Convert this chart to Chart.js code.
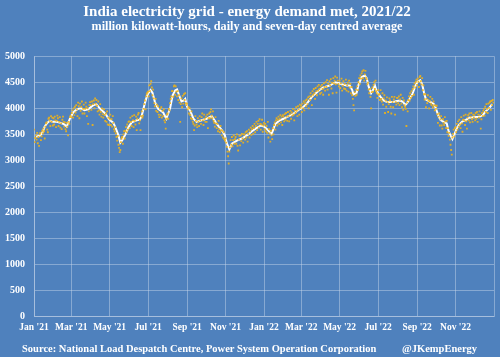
<!DOCTYPE html>
<html>
<head>
<meta charset="utf-8">
<script src="https://cdn.jsdelivr.net/npm/chart.js@4/dist/chart.umd.min.js"></script>
<style>
  html, body { margin: 0; padding: 0; background: #4f81bd; }
  #wrap { position: relative; width: 500px; height: 357px; background: #4f81bd; overflow: hidden; }
  canvas { position: absolute; left: 0; top: 0; }
  .foot { position: absolute; top: 342px; font-family: "Liberation Serif", "DejaVu Serif", serif; font-weight: bold; font-size: 10.5px; color: #ffffff; white-space: nowrap; line-height: 14px; }
</style>
</head>
<body>
<div id="wrap">
  <canvas id="c" width="500" height="357"></canvas>
  <div class="foot" id="src" style="left:22px;">Source: National Load Despatch Centre, Power System Operation Corporation</div>
  <div class="foot" id="handle" style="left:402px;">@JKempEnergy</div>
</div>
<script>
// ---------- DATA ----------
const titleText = 'India electricity grid - energy demand met, 2021/22';
const subtitleText = 'million kilowatt-hours, daily and seven-day centred average';

const tickDates = ['2021-01-01','2021-03-01','2021-05-01','2021-07-01','2021-09-01','2021-11-01',
                   '2022-01-01','2022-03-01','2022-05-01','2022-07-01','2022-09-01','2022-11-01','2023-01-01'];
const tickLabels = ["Jan '21","Mar '21","May '21","Jul '21","Sep '21","Nov '21",
                    "Jan '22","Mar '22","May '22","Jul '22","Sep '22","Nov '22"];
const startDate = '2021-01-01';

// daily energy demand met (million kWh), one array per month
const daily2021_01 = [3590,3350,3430,3480,3400,3530,3330,3450,3280,3500,3530,3390,3460,3570,3520,3610,3560,3420,3650,3710,3730,3590,3540,3800,3820,3760,3660,3850,3740,3820,3670];
const daily2021_02 = [3810,3690,3840,3770,3640,3760,3860,3810,3660,3740,3830,3630,3710,3600,3780,3840,3740,3650,3730,3600,3560,3720,3650,3480,3740,3700,3830,3860];
const daily2021_03 = [3830,3910,3960,3820,4000,3870,4030,3920,4060,3980,3850,4110,4040,3810,4090,3950,4030,4130,3900,3990,4070,3900,3990,4110,4030,3850,4000,3700,3940,4060,4120];
const daily2021_04 = [4060,3970,4130,3680,4080,4150,4000,4190,4090,4160,4050,3940,4130,3960,3880,4080,3930,3840,4000,3890,3820,3980,3870,3760,3900,3740,3940,3690,3820,3680];
const daily2021_05 = [3800,3880,3680,3790,3650,3850,3720,3600,3560,3640,3520,3450,3380,3470,3300,3240,3160,3200,3350,3420,3450,3320,3500,3560,3420,3570,3640,3540,3690,3590,3740];
const daily2021_06 = [3750,3620,3820,3740,3660,3850,3770,3640,3870,3760,3690,3840,3580,3800,3880,3910,3710,3770,3580,3850,3940,3820,3860,3990,4080,4150,3980,4230,4280,4300];
const daily2021_07 = [4320,4230,4440,4330,4470,4520,4400,4250,4360,4190,4100,4040,4180,3950,4070,3930,4040,3880,3830,3990,3870,4020,3820,3950,3850,3980,3770,3730,3610,3800,3880];
const daily2021_08 = [3900,3800,3990,3960,4100,4180,4230,4330,4330,4220,4420,4440,4260,4420,4320,4230,4330,4160,4250,4110,3740,4080,4190,4020,4240,4090,4270,4160,4290,4100,4060];
const daily2021_09 = [4090,3980,4020,3900,4000,3870,3810,3940,3790,3740,3700,3580,3670,3850,3760,3690,3640,3810,3740,3660,3850,3770,3700,3830,3900,3770,3680,3880,3800,3740];
const daily2021_10 = [3840,3740,3880,3620,3810,3900,3810,3930,3980,3860,3810,3940,3760,3720,3650,3830,3710,3620,3700,3560,3760,3600,3540,3660,3580,3480,3570,3440,3540,3410,3380];
const daily2021_11 = [3420,3340,3260,3170,3080,2940,3170,3250,3390,3300,3450,3270,3390,3480,3320,3410,3450,3320,3500,3280,3190,3400,3470,3290,3480,3370,3510,3420,3340,3500];
const daily2021_12 = [3500,3400,3540,3440,3560,3360,3510,3590,3440,3560,3630,3490,3600,3660,3510,3620,3700,3540,3660,3740,3580,3700,3760,3630,3790,3700,3590,3690,3780,3550,3670];
const daily2022_01 = [3720,3600,3700,3560,3660,3530,3740,3440,3600,3520,3360,3570,3480,3410,3620,3500,3680,3730,3590,3770,3810,3670,3780,3840,3700,3800,3870,3730,3840,3680,3870];
const daily2022_02 = [3840,3750,3890,3780,3910,3840,3760,3930,3850,3750,3890,3950,3800,3920,3860,3990,3880,3770,3960,3910,4020,3950,3850,4040,3980,3880,4070,4010];
const daily2022_03 = [4050,3930,4090,4000,4130,3960,4100,4150,4040,4170,4080,4210,4000,4230,4160,4290,4230,4060,4330,4260,4370,4290,4180,4390,4330,4250,4420,4340,4450,4370,4280];
const daily2022_04 = [4420,4300,4450,4370,4260,4480,4410,4340,4500,4410,4540,4360,4470,4260,4520,4440,4560,4380,4490,4290,4580,4480,4530,4610,4460,4300,4590,4530,4470,4420];
const daily2022_05 = [4530,4390,4480,4570,4340,4430,4520,4380,4470,4370,4550,4340,4440,4490,4320,4530,4400,4470,4290,4410,4250,4180,4060,3960,4310,4240,4360,4260,4420,4350,4500];
const daily2022_06 = [4580,4470,4630,4570,4670,4710,4580,4730,4530,4650,4720,4590,4560,4460,4490,4360,4290,4370,4220,4000,4310,4400,4320,4450,4500,4370,4530,4330,4290,4200];
const daily2022_07 = [4350,4260,4270,4160,4350,4180,4130,4290,4070,4190,4250,3910,4150,4030,4210,4120,3930,4080,4190,4150,4030,3900,4220,4120,4020,4170,4220,3880,4120,4070,4200];
const daily2022_08 = [4200,4100,4230,4060,4170,4260,4090,4020,4200,3970,4150,4060,4030,3990,3660,4110,3940,4160,4230,4150,4290,4200,4330,4240,4370,4420,4260,4480,4400,4510,4550];
const daily2022_09 = [4450,4570,4510,4410,4600,4620,4520,4460,4580,4350,4440,4270,4170,4270,4020,4180,4100,4250,4150,4000,4140,4220,4090,4060,4180,4020,4130,4060,3960,4050];
const daily2022_10 = [3990,4050,3890,3720,3840,3900,3670,3790,3850,3670,3610,3790,3720,3680,3830,3750,3620,3760,3540,3620,3470,3530,3400,3300,3200,3110,3440,3510,3590,3460,3620];
const daily2022_11 = [3640,3540,3700,3590,3750,3650,3780,3690,3620,3830,3710,3550,3780,3860,3770,3680,3880,3750,3610,3820,3870,3770,3900,3730,3840,3910,3790,3740,3880,3820];
const daily2022_12 = [3870,3770,3910,3800,3930,3740,3880,3820,3940,3870,3610,3790,3910,3850,3950,3990,3860,4030,3930,4080,3990,3910,4090,4010,4110,4130,3970,4140,4060,4160,4110];

// seven-day centred average, read at its turning points (days since 1 Jan 2021)
const avgDayIndex = [3,7,10,14,17,21,25,30,36,42,47,52,57,62,66,70,75,80,86,94,99,105,113,119,126,130,134,137,140,145,150,155,163,168,171,176,180,185,188,192,197,205,210,216,220,224,227,230,234,238,240,243,248,253,258,266,274,282,287,290,298,303,306,310,314,322,330,340,346,353,360,365,369,375,377,380,383,390,396,401,411,420,426,433,441,449,454,459,470,478,484,488,496,501,505,507,512,515,520,525,528,531,535,538,541,544,550,555,560,565,570,576,581,586,589,592,596,600,605,608,613,616,619,622,628,634,637,642,645,650,655,658,661,664,668,672,675,680,686,690,698,706,712,716,720,724,727];
const avgValues   = [3460,3470,3480,3550,3650,3720,3760,3740,3740,3720,3700,3650,3800,3920,3960,3990,4000,3965,3980,4060,4080,3990,3900,3790,3720,3610,3480,3340,3390,3500,3640,3730,3770,3780,3860,4100,4260,4350,4300,4120,3990,3920,3800,4000,4250,4340,4360,4260,4130,4150,4180,4030,3950,3800,3740,3770,3800,3850,3760,3700,3580,3480,3330,3210,3320,3380,3420,3500,3560,3620,3670,3650,3610,3530,3510,3600,3700,3770,3800,3830,3890,3970,4010,4090,4220,4310,4360,4400,4440,4500,4480,4460,4440,4440,4350,4270,4300,4450,4600,4630,4580,4420,4290,4350,4440,4320,4220,4150,4120,4120,4120,4140,4150,4120,4060,4100,4180,4260,4420,4500,4540,4460,4300,4170,4130,4090,4020,3850,3780,3740,3710,3560,3480,3410,3530,3640,3690,3750,3780,3820,3830,3840,3860,3930,3980,4030,4080];

const yMin = 0, yMax = 5000, yStep = 500;

// ---------- BUILD ----------
const DAY = 86400000;
const base = Date.parse(startDate + 'T00:00:00Z');
const dayOf = s => Math.round((Date.parse(s + 'T00:00:00Z') - base) / DAY);
const tickDays = tickDates.map(dayOf);

const dailyMonths = [daily2021_01,daily2021_02,daily2021_03,daily2021_04,daily2021_05,daily2021_06,
                     daily2021_07,daily2021_08,daily2021_09,daily2021_10,daily2021_11,daily2021_12,
                     daily2022_01,daily2022_02,daily2022_03,daily2022_04,daily2022_05,daily2022_06,
                     daily2022_07,daily2022_08,daily2022_09,daily2022_10,daily2022_11,daily2022_12];
const dailyPoints = [];
let d = 0;
dailyMonths.forEach(m => m.forEach(v => { dailyPoints.push({x: d, y: v}); d++; }));
const avgPoints = avgDayIndex.map((x, i) => ({x: x, y: avgValues[i]}));

const serif = '"Liberation Serif", "DejaVu Serif", serif';
const gridColor = 'rgba(205,218,236,0.45)';

new Chart(document.getElementById('c'), {
  type: 'scatter',
  data: {
    datasets: [
      {
        type: 'line',
        data: avgPoints,
        borderColor: '#ffffff',
        borderWidth: 2,
        pointRadius: 0,
        tension: 0,
        fill: false,
        order: 1
      },
      {
        data: dailyPoints,
        showLine: false,
        pointStyle: 'rect',
        pointRadius: 1.3,
        pointBorderWidth: 0,
        backgroundColor: 'rgba(238,178,24,0.9)',
        borderColor: 'rgba(0,0,0,0)',
        order: 0
      }
    ]
  },
  options: {
    responsive: false,
    devicePixelRatio: 1,
    animation: false,
    layout: { padding: { left: 0, right: 6, top: 0, bottom: 20.3 } },
    plugins: {
      legend: { display: false },
      tooltip: { enabled: false },
      title: {
        display: true,
        text: titleText,
        color: '#ffffff',
        font: { family: serif, size: 15, weight: 'bold', lineHeight: 1.1 },
        padding: { top: 4, bottom: 0 }
      },
      subtitle: {
        display: true,
        text: subtitleText,
        color: '#ffffff',
        font: { family: serif, size: 12.2, weight: 'bold', lineHeight: 1.1 },
        padding: { top: 0, bottom: 22.3 }
      }
    },
    scales: {
      x: {
        type: 'linear',
        min: tickDays[0],
        max: tickDays[tickDays.length - 1],
        afterBuildTicks: s => { s.ticks = tickDays.map(v => ({ value: v })); },
        afterFit: s => { s.height = 20; },
        grid: { color: gridColor, lineWidth: 1, drawTicks: false },
        border: { display: true, color: gridColor },
        ticks: {
          autoSkip: false, maxRotation: 0, minRotation: 0, padding: 5,
          color: '#ffffff',
          font: { family: serif, size: 9.5, weight: 'bold' },
          callback: (v, i) => (tickLabels[i] !== undefined ? tickLabels[i] : '')
        }
      },
      y: {
        min: yMin, max: yMax,
        afterFit: s => { s.width = 34; },
        grid: { color: gridColor, lineWidth: 1, drawTicks: false },
        border: { display: true, color: gridColor },
        ticks: {
          stepSize: yStep, padding: 9,
          color: '#ffffff',
          font: { family: serif, size: 10, weight: 'bold' },
          callback: v => String(v)
        }
      }
    }
  }
});
</script>
</body>
</html>
